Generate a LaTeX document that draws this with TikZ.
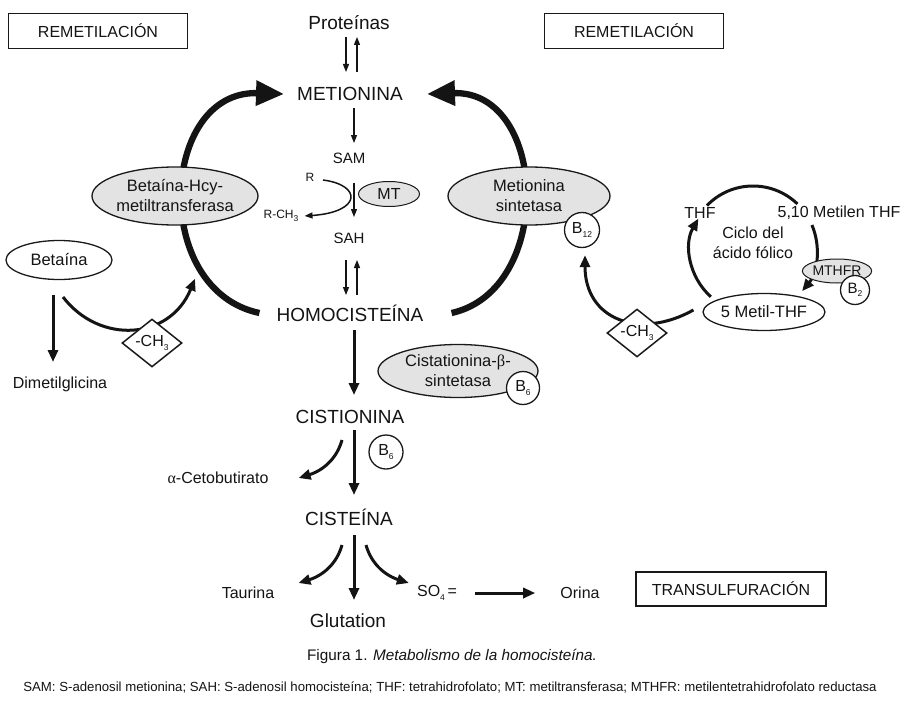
\documentclass[tikz,border=0pt]{standalone}
\usepackage{fontspec}
\setmainfont{Liberation Sans}
\newfontfamily\greekserif{Liberation Serif}
\usetikzlibrary{shapes.geometric,arrows.meta,calc}
\newcommand\mysub[1]{\raisebox{-3.5pt}{\fontsize{8.5}{9}\selectfont #1}}
\begin{document}
\begin{tikzpicture}[x=1pt,y=1pt,
  every node/.style={inner sep=0pt, text=black!92},
  big/.style={font=\fontsize{19}{22}\selectfont},
  med/.style={font=\fontsize{16}{19}\selectfont},
  sm/.style={font=\fontsize{15}{17}\selectfont},
  tiny/.style={font=\fontsize{12}{14}\selectfont},
  boxn/.style={draw=black!90, line width=1.5pt, minimum width=179pt, minimum height=35pt, font=\fontsize{16}{19}\selectfont},
  enz/.style={ellipse, draw=black!90, line width=1.3pt, fill=black!11, align=center, font=\fontsize{16.5}{20}\selectfont},
  plain/.style={ellipse, draw=black!90, line width=1.3pt, fill=white, align=center, font=\fontsize{16.5}{20}\selectfont},
  vit/.style={circle, draw=black!90, line width=1.3pt, fill=white, minimum size=35pt, font=\fontsize{16}{19}\selectfont},
  methyl/.style={diamond, draw=black!90, line width=1.5pt, fill=white, minimum width=60pt, minimum height=39pt, font=\fontsize{16}{19}\selectfont},
  thinarr/.style={line width=1.3pt, draw=black!92, -{Triangle[length=8pt,width=6pt]}},
  medarr/.style={line width=3pt, draw=black!92, -{Triangle[length=12pt,width=10pt]}},
  bigarr/.style={line width=6.3pt, draw=black!92, -{Triangle[length=28pt,width=24pt]}}
]
\useasboundingbox (0,0) rectangle (907,-701);
\fill[white] (0,0) rectangle (907,-701);

% boxes
\node[boxn] (rl) at (98,-31) {REMETILACIÓN};
\node[boxn] (rr) at (634,-31) {REMETILACIÓN};
\node[boxn, minimum width=190pt, minimum height=34pt] (tr) at (731,-589) {TRANSULFURACIÓN};

% main column
\node[big] (prot) at (349,-23) {Proteínas};
\node[big] (met) at (350,-94) {METIONINA};
\node[sm] (sam) at (349,-158) {SAM};
\node[sm] (sah) at (349,-238) {SAH};
\node[big] (hcy) at (350,-313) {HOMOCISTEÍNA};
\node[big] (cist) at (350,-417) {CISTIONINA};
\node[big] (cys) at (349,-517) {CISTEÍNA};
\node[big] (glu) at (348,-621) {Glutation};
\node[med] (tau) at (248,-593) {Taurina};
\node[med] (so4) at (437,-593) {SO\mysub{4}\,=};
\node[med] (ori) at (580,-593) {Orina};
\node[med] (ceto) at (218,-478) {{\greekserif α}-Cetobutirato};
\node[tiny] (r) at (310,-177) {R};
\node[tiny] (rch) at (281,-216) {R-CH\mysub{3}};

% thin arrows
\draw[thinarr] ($(prot)+(-3,-14)$) -- ($(met)+(-4,22)$);
\draw[thinarr] ($(met)+(7,22)$) -- ($(prot)+(8,-14)$);
\draw[thinarr] ($(met)+(4,-14)$) -- ($(sam)+(5,15)$);
\draw[thinarr] ($(sam)+(5,-25)$) -- ($(sah)+(5,21)$);
\draw[thinarr] ($(sah)+(-3,-22)$) -- ($(hcy)+(-4,18)$);
\draw[thinarr] ($(hcy)+(7,18)$) -- ($(sah)+(8,-22)$);
\draw[line width=1.5pt, draw=black!92, -{Triangle[length=8pt,width=6pt]}] ($(r)+(13,-3)$) .. controls (362,-185) and (362,-212) .. ($(rch.east)+(6,0)$);
\node[enz, minimum width=61pt, minimum height=25pt, line width=1pt, font=\fontsize{16}{19}\selectfont] (mt) at (389,-194) {MT};

% transsulfuration
\draw[medarr] ($(hcy)+(4,-17)$) -- ($(cist)+(4,22)$);
\draw[medarr] ($(cist)+(4,-13)$) -- ($(cys)+(5,22)$);
\draw[medarr] ($(cist)+(-8,-23)$) .. controls (335,-465) and (315,-473) .. ($(ceto.east)+(30,0)$);
\draw[medarr] ($(cys)+(-7,-28)$) .. controls (335,-570) and (315,-578) .. ($(tau.east)+(24,10)$);
\draw[medarr] ($(cys)+(5,-18)$) -- ($(glu)+(6,21)$);
\draw[medarr] ($(cys)+(17,-28)$) .. controls (373,-570) and (393,-578) .. ($(so4.west)+(-8,10)$);
\draw[medarr] ($(so4.east)+(18,0)$) -- ($(ori.west)+(-25,0)$);
\node[enz, minimum width=160pt, minimum height=53pt] (cbs) at (458,-371) {Cistationina-{\greekserif β}-\\sintetasa};
\node[vit, minimum size=33pt] (b6a) at (523,-388) {B\mysub{6}};
\node[vit, minimum size=34pt] (b6b) at (386,-452) {B\mysub{6}};

% remethylation arcs
\draw[bigarr] ($(hcy.west)+(-17,0)$) .. controls (150,-290) and (160,-90) .. ($(met.west)+(-13,0)$);
\draw[bigarr] ($(hcy.east)+(28,0)$) .. controls (555,-290) and (548,-90) .. ($(met.east)+(24,0)$);
\node[enz, minimum width=163pt, minimum height=58pt] (bhmt) at (175,-196) {Betaína-Hcy-\\metiltransferasa};
\node[enz, minimum width=162pt, minimum height=58pt] (ms) at (529,-196) {Metionina\\sintetasa};
\node[vit] (b12) at (582,-230) {B\mysub{12}};

% betaine
\node[plain, minimum width=106pt, minimum height=39pt] (bet) at (59,-260) {Betaína};
\node[med] (dmg) at (60,-384) {Dimetilglicina};
\draw[medarr] ($(bet)+(-6,-35)$) -- ($(dmg)+(-7,22)$);
\draw[medarr] ($(bet)+(4,-37)$) .. controls (100,-345) and (170,-340) .. ($(bhmt.south)+(20,-53)$);
\node[methyl] (ch3l) at (152,-343) {-CH\mysub{3}};

% folate cycle
\coordinate (cyc) at (753,-250);
\draw[line width=3pt, draw=black!92, -{Triangle[length=12pt,width=10pt]}] ($(cyc)+(228:63)$) arc[start angle=228, end angle=150, radius=63];
\draw[line width=3pt, draw=black!92] ($(cyc)+(136:64)$) arc[start angle=136, end angle=46, radius=64];
\draw[line width=3pt, draw=black!92, -{Triangle[length=12pt,width=10pt]}] ($(cyc)+(23:64)$) arc[start angle=23, end angle=-40, radius=64];
\node[med] (thf) at (700,-213) {THF};
\node[med] (mthf10) at (839,-213) {5,10 Metilen THF};
\node[med, align=center, font=\fontsize{16}{19.5}\selectfont] (ciclo) at (753,-243) {Ciclo del\\ácido fólico};
\node[enz, minimum width=61pt, minimum height=24pt, line width=1pt, font=\fontsize{14}{17}\selectfont] (mthfr) at (837,-271) {MTHFR};
\node[vit, minimum size=29pt, font=\fontsize{15}{17}\selectfont] (b2) at (855,-290) {B\mysub{2}};
\node[plain, minimum width=116pt, minimum height=37pt] (mthf) at (764,-312) {5 Metil-THF};
\draw[medarr] ($(mthf.west)+(-9,2)$) .. controls (640,-340) and (585,-320) .. ($(b12.south)+(3,-7)$);
\node[methyl] (ch3r) at (637,-333) {-CH\mysub{3}};

% caption
\node[font=\fontsize{15.3}{18}\selectfont] (cap) at (452,-656) {Figura 1. \textit{Metabolismo de la homocisteína.}};
\node[font=\fontsize{13.2}{16}\selectfont] (foot) at (450,-687) {SAM: S-adenosil metionina; SAH: S-adenosil homocisteína; THF: tetrahidrofolato; MT: metiltransferasa; MTHFR: metilentetrahidrofolato reductasa};
\end{tikzpicture}
\end{document}
